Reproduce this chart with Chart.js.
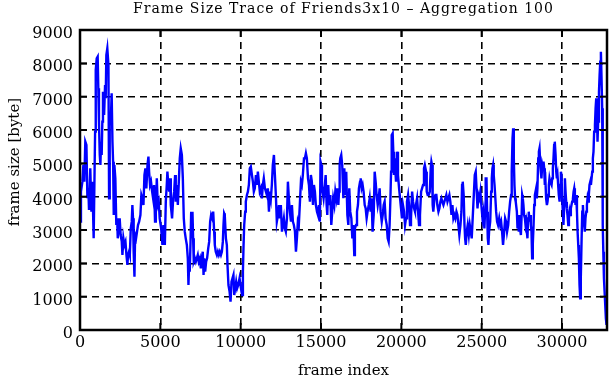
<!DOCTYPE html>
<html>
<head>
<meta charset="utf-8">
<title>Frame Size Trace of Friends3x10</title>
<script src="https://cdn.jsdelivr.net/npm/chart.js@4/dist/chart.umd.min.js"></script>
<style>
  html, body { margin: 0; padding: 0; background: #fff; }
  #wrap { width: 611px; height: 380px; position: relative; }
</style>
</head>
<body>
<div id="wrap"><canvas id="trace"></canvas></div>
<script>
// ── Labels ──────────────────────────────────
const TITLE   = 'Frame Size Trace of Friends3x10 \u2013 Aggregation 100';
const X_LABEL = 'frame index';
const Y_LABEL = 'frame size [byte]';

// ── Axes ────────────────────────────────────
const X_MAX  = 32800;
const Y_MAX  = 9000;
const xTicks = [0, 5000, 10000, 15000, 20000, 25000, 30000];
const yTicks = [0, 1000, 2000, 3000, 4000, 5000, 6000, 7000, 8000, 9000];

// ── Trace ───────────────────────────────────
const frameIdx = [
  0,60,150,210,270,330,400,460,520,560,640,710,770,850,890,940,980,1040,1100,1140,
  1180,1230,1270,1310,1350,1390,1430,1500,1560,1600,1640,1700,1770,1810,1850,1910,1970,2020,2060,2100,
  2140,2200,2260,2310,2350,2430,2470,2530,2600,2640,2700,2760,2830,2890,2950,2990,3050,3100,3160,3220,
  3260,3300,3340,3390,3430,3490,3550,3610,3680,3760,3820,3880,3950,4010,4070,4130,4200,4260,4300,4360,
  4420,4490,4550,4610,4670,4720,4780,4840,4900,4960,5050,5130,5190,5250,
  5280,5340,5400,5440,5500,5550,5610,5650,5730,5800,5860,5920,5960,6020,6090,6150,6210,6270,6340,6400,
  6460,6520,6580,6650,6710,6750,6790,6830,6880,6920,6960,7000,7040,7080,7150,7210,7270,7330,7390,7460,
  7520,7580,7640,7690,7730,7790,7850,7910,7980,8040,8100,8160,8230,8290,8350,8390,8450,8520,8580,8640,
  8700,8770,8830,8890,8930,8970,9010,9080,9140,9180,9240,9310,9370,9430,9490,9550,9600,9660,9720,9780,
  9850,9930,9990,10050,10090,10140,10180,10220,10280,10320,10390,10450,10510,10570,10630,10700,
  10760,10820,10880,10950,11010,11070,11130,11190,11260,11320,11380,11440,11510,11570,11630,11690,11760,11820,11880,11940,
  12000,12070,12130,12190,12250,12320,12380,12440,12500,12570,12630,12690,12750,12810,12880,12940,13000,13060,13130,13190,
  13250,13310,13380,13440,13500,13560,13620,13690,13750,13810,13870,13940,14000,14060,14120,14190,14250,14310,14370,14430,
  14500,14560,14620,14680,14750,14810,14870,14930,14970,15020,15060,15100,15160,15220,15290,15350,15390,15450,15510,15580,
  15640,15700,15760,15830,15890,15950,16010,16080,
  16120,16160,16200,16260,16320,16390,16450,16510,16570,16640,16700,16760,16820,16890,16950,17010,17070,17110,17180,17240,
  17300,17360,17430,17470,17530,17590,17650,17720,17780,17840,17900,17970,18030,18090,18150,18210,18280,18340,18400,18460,
  18530,18590,18650,18710,18780,18840,18900,18960,19020,19090,19150,19210,19270,19320,19360,19400,19460,19500,19540,19590,
  19630,19670,19730,19790,19860,19920,19980,20040,20100,20170,20230,20290,20350,20420,20480,20540,20600,20670,20730,20790,
  20850,20910,20980,21040,21100,21160,21230,21290,21350,21410,21460,
  21540,21580,21640,21700,21770,21830,21870,21910,21950,21990,22060,22120,22180,22240,22310,22370,22430,22490,22550,22620,
  22680,22740,22800,22870,22930,22990,23050,23120,23180,23240,23300,23360,23430,23490,23550,23610,23680,23740,23780,23820,
  23880,23930,23970,24010,24070,24130,24200,24260,24320,24380,24440,24510,24570,24630,24670,24740,24800,24860,24920,24980,
  25050,25110,25170,25210,25250,25300,25340,25380,25420,25460,25530,25590,25630,25670,25710,25750,25800,25840,25900,25960,
  26020,26090,26150,26210,26270,26330,26400,26460,26520,26580,26650,26710,26770,26830,26870,
  26920,26960,27000,27040,27080,27120,27190,27230,27270,27310,27350,27390,27440,27480,27520,27560,27600,27640,27690,27730,
  27770,27810,27850,27890,27930,27980,28020,28060,28100,28140,28180,28230,28270,28310,28350,28390,28430,28470,28520,28560,
  28600,28640,28680,28720,28770,28810,28850,28890,28930,28970,29010,29060,29100,29140,29180,29220,29260,29310,29350,29390,
  29430,29470,29510,29550,29600,29640,29680,29720,29760,29800,29850,29890,29930,29970,30010,30050,30090,30140,30180,30220,
  30260,30300,30340,30390,30430,30470,30510,30550,30590,30630,30680,30720,30760,30800,30840,30880,30930,30970,31010,31050,
  31090,31130,31170,31220,31260,31300,31340,31380,31420,31460,31510,31550,31590,31630,31670,31710,31760,31800,31840,31880,
  31920,31960,32000,32050,32090,32130,32170,32210,32250,32300,32340,32380,32420,32460,32500,32520,32550,32570,32610,32650,
  32690,32730,32770
];

const frameSize = [
  3250,4150,4450,4950,4450,5650,5550,3950,4250,3600,4850,3550,4450,2750,4150,5950,7800,8150,8200,7250,
  6250,5250,4950,5650,5250,6250,7150,6450,7350,6950,8250,8450,7950,3950,6350,6150,7100,5650,5050,3450,
  4950,4550,3150,3350,2750,3150,3350,2850,2650,2250,2750,2550,2650,2250,1950,2250,2350,2250,3050,3250,
  3750,3350,2350,1600,2850,2750,2950,3150,3250,3450,4050,3950,3750,4650,4850,4250,4950,5200,4750,4350,
  4450,4150,3950,4350,3250,3550,4550,3750,3850,3350,3050,2550,3150,2750,
  2550,3850,4350,4750,4350,4150,4550,3750,3350,3950,4150,4650,3850,4350,3750,4450,5150,5450,5250,4550,
  3350,2950,2750,2550,2150,1350,1950,1750,2650,3550,2750,3550,2750,2050,2150,2050,2150,2250,2050,2150,
  1850,2150,2350,1650,2150,1750,2050,2150,2450,2650,3250,3450,3350,3550,2950,2550,2350,2250,2350,2250,
  2350,2250,2350,2650,3150,3500,3450,2750,2550,1950,1350,1150,850,1450,1550,1650,1050,1250,1450,1250,
  1350,1550,1350,1150,1050,1750,2550,3150,3550,3850,4050,4150,4350,4850,4900,4650,
  4450,4150,4250,4650,4350,4750,4450,4150,4250,3950,4350,4550,4250,4150,4050,4250,3550,4150,3950,4350,
  4950,5250,4650,4050,3250,3450,3750,3350,3750,2950,3150,3350,3050,2950,3350,4450,3950,3550,3250,3750,
  3250,3150,2950,2350,2750,3250,3150,3850,4450,4350,4650,5150,5150,5300,5150,4550,4350,3850,4650,4450,
  3750,4350,4150,3750,3550,3450,3750,3250,5050,4950,4350,4150,3950,4250,4650,3750,3450,4350,3750,4050,
  3150,3550,3950,3750,4150,3950,4250,3750,
  4150,4950,5150,5250,4950,3950,4850,4050,4750,3450,3150,4250,3550,3350,2750,3150,2250,3050,3150,3550,
  3750,4250,4450,4550,4250,4350,4150,3750,3650,3350,3550,3750,3950,3550,3950,2950,3450,4750,4450,4050,
  3750,3950,4250,3550,3250,3450,3750,3850,3350,3150,2750,2650,3150,3950,4750,5850,5900,5350,4650,5150,
  4750,4450,5350,4650,4250,3950,3650,3350,3750,3550,3150,3350,3850,4050,3750,3150,3350,4150,3850,3650,
  3550,3750,3950,3550,3150,3450,4150,4250,4350,4850,4950,
  4750,4150,4050,4050,4150,4850,5050,4950,3750,3550,3950,4050,4050,3750,3550,3650,3850,3950,3850,3750,
  3850,3950,4050,3850,3950,4050,3850,3450,3750,3350,3450,3350,3550,3450,3150,2850,3150,3550,4350,4450,
  4050,3150,2750,2550,2950,3150,2850,3150,2950,2750,3350,4050,4650,4750,4350,3650,4050,3950,4150,3750,
  3350,3550,3050,3550,4550,4550,3550,2750,2550,2950,3250,4150,4550,4850,4950,4650,4350,4050,3550,3250,
  3150,3350,3150,3250,2950,2550,2950,3350,3250,2950,3150,3550,3850,4050,4750,
  5750,6050,5150,4350,3950,3850,3550,3050,3350,2950,3450,3050,2850,3350,4050,3950,3750,3450,3350,3150,
  3250,2950,2750,3350,3550,3250,3450,3150,2950,2150,2550,3150,3750,4050,4150,4250,3950,4250,5150,5350,
  5450,5050,4750,4550,4950,4850,5050,4850,4350,4450,3950,3750,3850,4050,4350,4550,4450,4450,4350,4550,
  4850,5150,5550,5650,5250,4750,4550,4650,4350,4050,3850,4350,4750,4650,3950,3550,3150,3750,4550,4150,
  3850,3650,3450,3150,3350,3550,3450,3650,3750,3850,3950,4150,4250,4050,3750,4050,3550,2950,2550,2150,
  1350,950,1550,2750,3550,3750,3350,3150,2950,3350,3550,3750,3950,3850,4050,4350,4450,4350,4550,4750,
  5150,5350,5950,6150,6650,6950,6550,5650,6250,7150,7650,8050,8350,7550,6650,4950,3150,2350,1550,1150,
  750,350,150
];

// ── Helpers ─────────────────────────────────
const FONT = '"DejaVu Serif", "Liberation Serif", serif';
const tracePoints = frameIdx.map((f, i) => ({ x: f, y: frameSize[i] }));
const keepTicks = list => scale => {
  scale.ticks = list.map(v => ({ value: v }));
};

// gnuplot-style frame: solid box, inward ticks on all four sides, titles
const gnuplotFrame = {
  id: 'gnuplotFrame',
  afterDraw(chart) {
    const { ctx, chartArea: a, scales: { x, y } } = chart;
    const seg = (x1, y1, x2, y2) => { ctx.beginPath(); ctx.moveTo(x1, y1); ctx.lineTo(x2, y2); ctx.stroke(); };
    ctx.save();
    ctx.strokeStyle = '#000';
    ctx.setLineDash([]);
    ctx.lineWidth = 2;
    xTicks.forEach(v => {
      const px = x.getPixelForValue(v);
      seg(px, a.bottom, px, a.bottom - 7);
      seg(px, a.top, px, a.top + 7);
    });
    yTicks.forEach(v => {
      const py = y.getPixelForValue(v);
      seg(a.left, py, a.left + 7, py);
      seg(a.right, py, a.right - 7, py);
    });
    ctx.lineWidth = 2.5;
    ctx.strokeRect(a.left, a.top, a.right - a.left, a.bottom - a.top);

    ctx.fillStyle = '#000';
    ctx.textAlign = 'center';
    ctx.textBaseline = 'alphabetic';
    const cx = (a.left + a.right) / 2;
    ctx.font = '14px ' + FONT;
    ctx.letterSpacing = '1px';
    ctx.fillText(TITLE, cx, 12.5);
    ctx.letterSpacing = '0px';
    ctx.font = '15px ' + FONT;
    ctx.fillText(X_LABEL, cx, 375);
    ctx.translate(18.5, 162);
    ctx.rotate(-Math.PI / 2);
    ctx.fillText(Y_LABEL, 0, 0);
    ctx.restore();
  }
};

// ── Chart ───────────────────────────────────
new Chart(document.getElementById('trace'), {
  type: 'scatter',
  data: {
    datasets: [{
      data: tracePoints,
      showLine: true,
      borderColor: '#0000ff',
      borderWidth: 2.4,
      pointRadius: 0,
      tension: 0,
      fill: false
    }]
  },
  options: {
    responsive: true,
    maintainAspectRatio: false,
    animation: false,
    events: [],
    layout: { padding: { top: 30, right: 4, left: 0, bottom: 0 } },
    plugins: { legend: { display: false }, tooltip: { enabled: false }, title: { display: false } },
    scales: {
      x: {
        type: 'linear',
        min: 0, max: X_MAX,
        afterFit: s => { s.height = 50; },
        afterBuildTicks: keepTicks(xTicks),
        ticks: { autoSkip: false, padding: 3, maxRotation: 0, minRotation: 0,
                 callback: v => String(v),
                 color: '#000', font: { family: FONT, size: 16 } },
        grid: { color: '#000', lineWidth: 1.6, drawTicks: false },
        border: { display: false, dash: [7, 5] }
      },
      y: {
        min: 0, max: Y_MAX,
        afterFit: s => { s.width = 80; },
        afterBuildTicks: keepTicks(yTicks),
        ticks: { autoSkip: false, padding: 7, labelOffset: 4,
                 callback: v => String(v),
                 color: '#000', font: { family: FONT, size: 16 } },
        grid: { color: '#000', lineWidth: 1.6, drawTicks: false },
        border: { display: false, dash: [7, 5] }
      }
    }
  },
  plugins: [gnuplotFrame]
});
</script>
</body>
</html>
